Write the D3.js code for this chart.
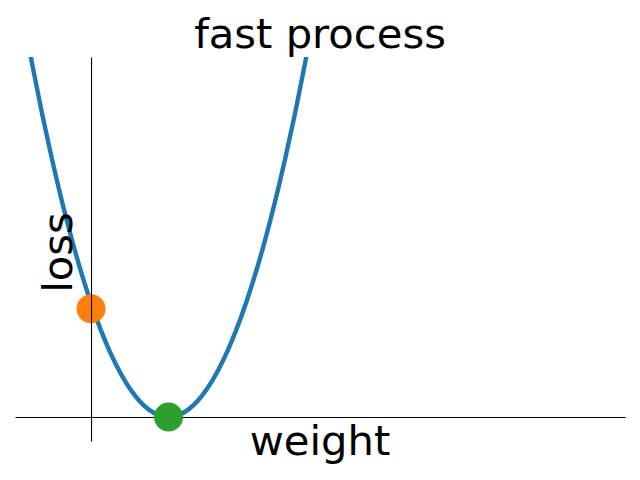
<!DOCTYPE html>
<html>
<head>
<meta charset="utf-8">
<script src="https://cdn.jsdelivr.net/npm/d3@7"></script>
<style>
  html, body { margin: 0; padding: 0; background: #fff; }
  svg { display: block; font-family: "DejaVu Sans", sans-serif; }
</style>
</head>
<body>
<svg id="chart" width="640" height="480"></svg>
<script>
// ---- data ----
const weights = [-1, -0.75, -0.5, -0.25, 0, 0.25, 0.5, 0.75, 1, 1.25, 1.5, 1.75, 2, 2.25, 2.5, 2.75, 3];
const losses  = [4, 3.0625, 2.25, 1.5625, 1, 0.5625, 0.25, 0.0625, 0, 0.0625, 0.25, 0.5625, 1, 1.5625, 2.25, 3.0625, 4];
const markerWeights = [0, 1];
const markerLosses  = [0.95, 0];
const markerColors  = ["#ff7f0e", "#2ca02c"];
const titleText = "fast process";
const xLabel = "weight";
const yLabel = "loss";

// ---- layout ----
const svg = d3.select("#chart");
const pL = 15, pR = 625, pT = 57, pB = 441;
const x = d3.scaleLinear().domain([-0.981, 6.89]).range([pL, pR]);
const y = d3.scaleLinear().domain([-0.2105, 3.158]).range([pB, pT]);

svg.append("defs").append("clipPath").attr("id", "clip")
  .append("rect").attr("x", pL).attr("y", pT).attr("width", pR - pL).attr("height", pB - pT);

const pts = weights.map((w, i) => [w, losses[i]]);

// horizontal axis (through loss = 0)
svg.append("g")
  .attr("transform", `translate(0,${y(0)})`)
  .call(d3.axisBottom(x).tickValues([]).tickSizeOuter(0))
  .call(g => g.select(".domain").attr("stroke", "#000").attr("stroke-width", 1.1));

// curve
svg.append("path")
  .datum(pts)
  .attr("clip-path", "url(#clip)")
  .attr("fill", "none")
  .attr("stroke", "#1f77b4")
  .attr("stroke-width", 4.4)
  .attr("stroke-linecap", "square")
  .attr("d", d3.line().x(d => x(d[0])).y(d => y(d[1])).curve(d3.curveNatural));

// orange marker
svg.append("circle")
  .attr("cx", x(markerWeights[0])).attr("cy", y(markerLosses[0]))
  .attr("r", 14.5).attr("fill", markerColors[0]);

// vertical axis (through weight = 0)
svg.append("g")
  .attr("transform", `translate(${x(0)},0)`)
  .call(d3.axisLeft(y).tickValues([]).tickSizeOuter(0))
  .call(g => g.select(".domain").attr("stroke", "#000").attr("stroke-width", 1.1));

// green marker
svg.append("circle")
  .attr("cx", x(markerWeights[1])).attr("cy", y(markerLosses[1]))
  .attr("r", 14.5).attr("fill", markerColors[1]);

// texts
svg.append("text")
  .attr("x", (pL + pR) / 2).attr("y", 48)
  .attr("text-anchor", "middle").attr("font-size", 41.7).attr("fill", "#000")
  .text(titleText);

svg.append("text")
  .attr("x", (pL + pR) / 2).attr("y", 455)
  .attr("text-anchor", "middle").attr("font-size", 41.7).attr("fill", "#000")
  .text(xLabel);

svg.append("text")
  .attr("transform", `translate(72,252.5) rotate(-90)`)
  .attr("text-anchor", "middle").attr("font-size", 41.7).attr("fill", "#000")
  .text(yLabel);
</script>
</body>
</html>
